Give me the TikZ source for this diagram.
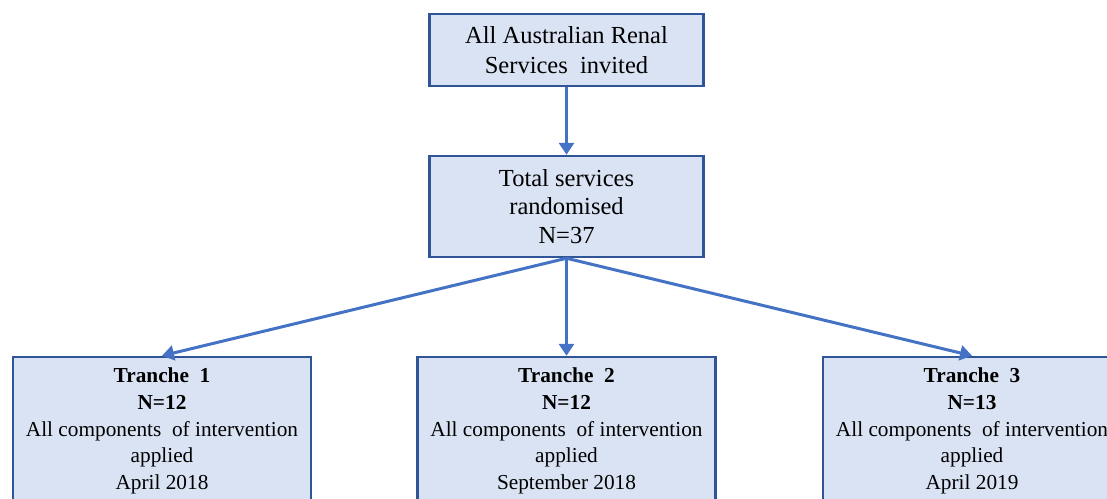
\documentclass[tikz,border=0pt]{standalone}
\usepackage{fontspec}
\setmainfont{Liberation Serif}
\usetikzlibrary{arrows.meta}
\definecolor{boxfill}{HTML}{DAE3F3}
\definecolor{boxdraw}{HTML}{2F5597}
\definecolor{arrowc}{HTML}{4472C4}
\begin{document}
\begin{tikzpicture}[x=1pt,y=-1pt,
  box/.style={draw=boxdraw, fill=boxfill, line width=2.5pt, align=center, inner sep=0pt},
  topbox/.style={box, minimum width=274pt, font=\fontsize{24.5}{29.5}\selectfont},
  tranche/.style={box, minimum width=298pt, minimum height=148pt, font=\fontsize{21.3}{26.7}\selectfont},
  flow/.style={draw=arrowc, line width=3pt, -{Triangle[length=12pt,width=15pt]}}]
\useasboundingbox (0,0) rectangle (1107,498);
\clip (0,0) rectangle (1107,498);
\node[topbox, minimum height=72pt] (invited) at (566.5,50) {All Australian Renal\\Services\ \ invited};
\node[topbox, minimum height=101pt, font=\fontsize{24.5}{28.5}\selectfont] (rand) at (566.5,206.5) {Total services\\randomised\\N=37};
\node[tranche] (t1) at (162,431) {\textbf{Tranche\ \ 1}\\\textbf{N=12}\\All components\ \ of intervention\\applied\\April 2018};
\node[tranche] (t2) at (566.5,431) {\textbf{Tranche\ \ 2}\\\textbf{N=12}\\All components\ \ of intervention\\applied\\September 2018};
\node[tranche] (t3) at (972,431) {\textbf{Tranche\ \ 3}\\\textbf{N=13}\\All components\ \ of intervention\\applied\\April 2019};
\draw[flow] (invited.south) -- (rand.north);
\draw[flow] (rand.south) -- (t1.north);
\draw[flow] (rand.south) -- (t2.north);
\draw[flow] (rand.south) -- (t3.north);
\end{tikzpicture}
\end{document}
